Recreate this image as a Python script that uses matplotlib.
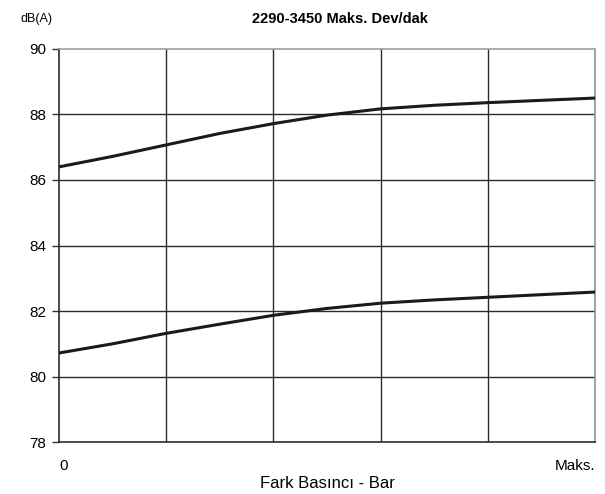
import numpy as np
import matplotlib.pyplot as plt

plt.rcParams['font.family'] = ['Liberation Sans', 'DejaVu Sans']

# relative pressure positions (0 = 0, 5 = Maks.)
x_pos = [0, 0.5, 1, 1.5, 2, 2.5, 3, 3.5, 4, 4.5, 5]
upper_db = [86.40, 86.72, 87.07, 87.42, 87.72, 87.98, 88.17, 88.28, 88.36, 88.43, 88.50]
lower_db = [80.72, 81.00, 81.32, 81.60, 81.87, 82.08, 82.24, 82.34, 82.42, 82.50, 82.58]

y_ticks = [78, 80, 82, 84, 86, 88, 90]
x_ticks = [0, 5]
x_tick_labels = ['0', 'Maks.']

fig = plt.figure(figsize=(6.05, 4.94), dpi=100)
ax = fig.add_axes([0.0975, 0.105, 0.886, 0.796])

# grid lines
for gx in [1, 2, 3, 4]:
    ax.axvline(gx, color='#2b2b2b', lw=1.0, zorder=1)
for gy in [80, 82, 84, 86, 88]:
    ax.axhline(gy, color='#2b2b2b', lw=1.0, zorder=1)

ax.plot(x_pos, upper_db, color='#1a1a1a', lw=2.2, zorder=3)
ax.plot(x_pos, lower_db, color='#1a1a1a', lw=2.2, zorder=3)

ax.set_xlim(0, 5)
ax.set_ylim(78, 90)
ax.set_yticks(y_ticks)
ax.tick_params(axis='y', length=5, width=1, color='#333333', labelsize=11, pad=4)
ax.set_xticks(x_ticks)
ax.set_xticklabels(x_tick_labels, fontsize=11)
ax.tick_params(axis='x', length=0, pad=12)
labels = ax.get_xticklabels()
labels[0].set_horizontalalignment('left')
labels[1].set_horizontalalignment('right')

ax.spines['left'].set_color('#2b2b2b')
ax.spines['bottom'].set_color('#2b2b2b')
ax.spines['top'].set_color('#a0a0a0')
ax.spines['right'].set_color('#909090')
for s in ax.spines.values():
    s.set_linewidth(1.2)

ax.set_xlabel('Fark Basıncı - Bar', fontsize=12, labelpad=2)
fig.text(0.562, 0.962, '2290-3450 Maks. Dev/dak', ha='center', va='center',
         fontsize=10.5, fontweight='bold')
fig.text(0.06, 0.962, 'dB(A)', ha='center', va='center', fontsize=9)

plt.savefig('out.png', dpi=100)
